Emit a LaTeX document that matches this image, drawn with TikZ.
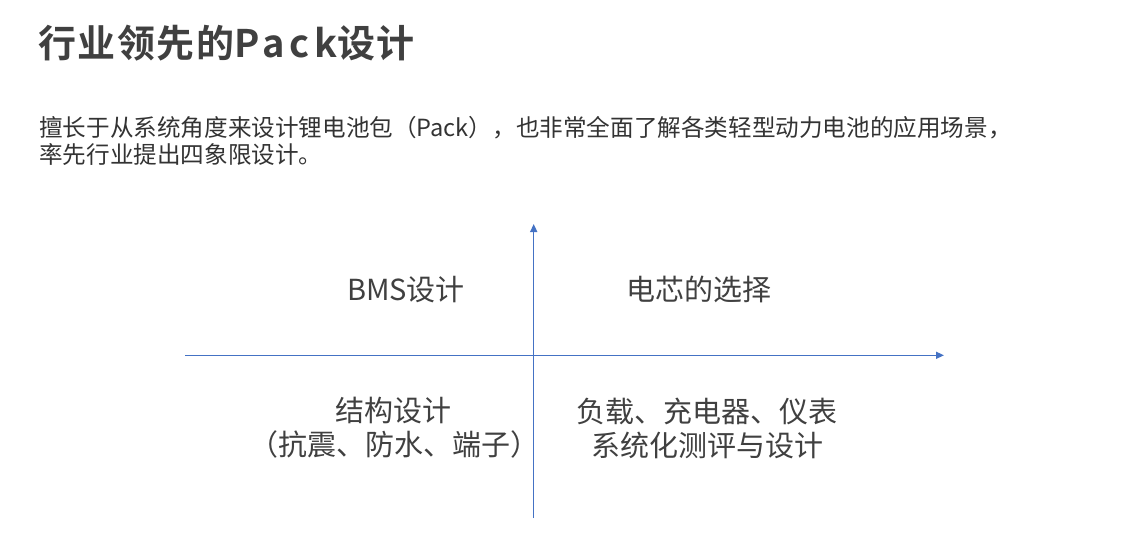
\documentclass[tikz,border=0pt]{standalone}
\usepackage{fontspec}
\setmainfont{Noto Sans CJK SC}
\newfontfamily\titlefont[LetterSpace=4]{Noto Sans CJK SC Bold}
\newfontfamily\titlelatin[LetterSpace=12]{Noto Sans CJK SC Bold}
\usetikzlibrary{arrows.meta}
\definecolor{axisblue}{HTML}{4472C4}
\definecolor{txtgray}{HTML}{404040}
\definecolor{bodygray}{HTML}{333333}
\tikzset{
  titletext/.style={anchor=west,inner sep=0pt,text=txtgray,font=\titlefont\fontsize{38}{44}\selectfont},
  bodytext/.style={anchor=west,inner sep=0pt,text=bodygray,font=\fontsize{23.6}{27}\selectfont},
  quadtext/.style={inner sep=0pt,text=txtgray,font=\fontsize{29}{33}\selectfont},
  axisline/.style={draw=axisblue,line width=1.5pt,-{Triangle[length=8pt,width=7pt]}}
}
\begin{document}
\begin{tikzpicture}[x=1pt,y=-1pt]
\useasboundingbox (0,0) rectangle (1139,556);
\node[titletext] (title) at (38,43) {行业领先的{\titlelatin\fontsize{38}{44}\selectfont Pack}设计};
\node[bodytext] (p1) at (39,127.5) {擅长于从系统角度来设计锂电池包（Pack），也非常全面了解各类轻型动力电池的应用场景，};
\node[bodytext] (p2) at (39,154.5) {率先行业提出四象限设计。};
\coordinate (xs) at (185,355.3);
\coordinate (xe) at (944,355.3);
\coordinate (ys) at (533.7,518);
\coordinate (ye) at (533.7,224);
\draw[axisline] (xs) -- (xe);
\draw[axisline] (ys) -- (ye);
\node[quadtext] (q2) at (406,290) {BMS设计};
\node[quadtext] (q1) at (699,289) {电芯的选择};
\node[quadtext] (q3a) at (393,411) {结构设计};
\node[quadtext] (q3b) at (394,444) {（抗震、防水、端子）};
\node[quadtext] (q4a) at (707,411) {负载、充电器、仪表};
\node[quadtext] (q4b) at (707,445) {系统化测评与设计};
\end{tikzpicture}
\end{document}
